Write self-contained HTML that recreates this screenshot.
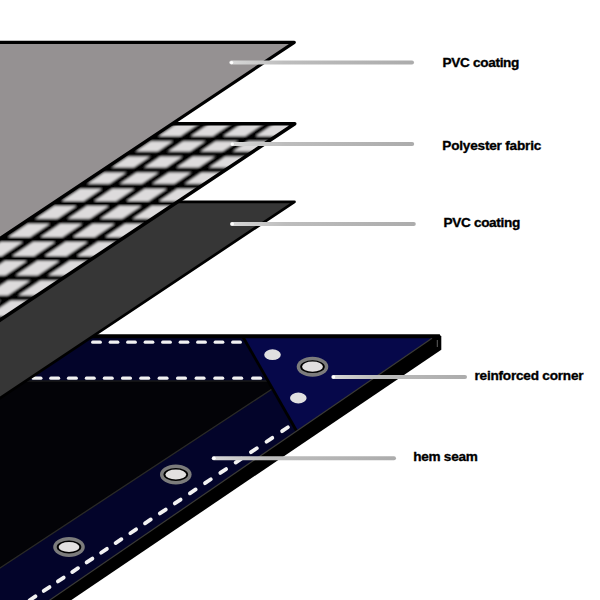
<!DOCTYPE html>
<html><head><meta charset="utf-8"><style>
html,body{margin:0;padding:0;background:#fff;width:600px;height:600px;overflow:hidden}
svg{position:absolute;left:0;top:0}
.l{position:absolute;font-family:"Liberation Sans",sans-serif;font-weight:bold;font-size:13.6px;line-height:16px;color:#000;-webkit-text-stroke:0.35px #000;white-space:nowrap}
</style></head><body>
<svg width="600" height="600" viewBox="0 0 600 600"><polygon points="0,334.5 439.5,334.5 441.3,336.5 441.3,349.7 56.6,610 0,610" fill="#000"/><polygon points="0,338.3 432,338.3 35.3,610 0,610" fill="#030307"/><polygon points="0,338.3 243.7,338.3 268.1,381 0,381" fill="#03042a"/><polygon points="272.5,388.7 296.6,431 35.3,610 -63.9,610" fill="#03042a"/><polygon points="243.7,338.3 432,338.3 296.6,431" fill="#06084a"/><line x1="0" y1="381" x2="268.1" y2="381" stroke="#1a1a1a" stroke-width="1.5"/><line x1="272.5" y1="388.7" x2="-63.9" y2="610" stroke="#2a2a26" stroke-width="1.3"/><line x1="243" y1="337" x2="296.6" y2="431" stroke="#000" stroke-width="2.8"/><line x1="432" y1="338.3" x2="35.3" y2="610" stroke="#3a3a36" stroke-width="1.2"/><line x1="0" y1="336.3" x2="440" y2="336.3" stroke="#000" stroke-width="3.6"/><line x1="437.3" y1="340" x2="437.3" y2="347" stroke="#777" stroke-width="0.8"/><g fill="#f2f2f2"><rect x="91.1" y="340.6" width="10.8" height="3.2" rx="1.6"/><rect x="108.6" y="340.6" width="10.8" height="3.2" rx="1.6"/><rect x="126.1" y="340.6" width="10.8" height="3.2" rx="1.6"/><rect x="143.6" y="340.6" width="10.8" height="3.2" rx="1.6"/><rect x="161.1" y="340.6" width="10.8" height="3.2" rx="1.6"/><rect x="178.6" y="340.6" width="10.8" height="3.2" rx="1.6"/><rect x="196.1" y="340.6" width="10.8" height="3.2" rx="1.6"/><rect x="213.6" y="340.6" width="10.8" height="3.2" rx="1.6"/><rect x="231.1" y="340.6" width="10.8" height="3.2" rx="1.6"/><rect x="31.5" y="376.6" width="11" height="3.2" rx="1.6"/><rect x="49.2" y="376.6" width="11" height="3.2" rx="1.6"/><rect x="66.9" y="376.6" width="11" height="3.2" rx="1.6"/><rect x="84.8" y="376.6" width="11" height="3.2" rx="1.6"/><rect x="102.8" y="376.6" width="11" height="3.2" rx="1.6"/><rect x="121" y="376.6" width="11" height="3.2" rx="1.6"/><rect x="139.2" y="376.6" width="11" height="3.2" rx="1.6"/><rect x="157.6" y="376.6" width="11" height="3.2" rx="1.6"/><rect x="176" y="376.6" width="11" height="3.2" rx="1.6"/><rect x="194.6" y="376.6" width="11" height="3.2" rx="1.6"/><rect x="213.3" y="376.6" width="11" height="3.2" rx="1.6"/><rect x="232.2" y="376.6" width="11" height="3.2" rx="1.6"/><rect x="251.1" y="376.6" width="11" height="3.2" rx="1.6"/><rect x="279.6" y="427.3" width="10.8" height="3.8" rx="1.9" transform="rotate(-33.8 285 429.2)"/><rect x="264" y="437.9" width="10.8" height="3.8" rx="1.9" transform="rotate(-33.8 269.4 439.8)"/><rect x="248.5" y="448.3" width="10.8" height="3.8" rx="1.9" transform="rotate(-33.8 253.9 450.2)"/><rect x="233.1" y="458.7" width="10.8" height="3.8" rx="1.9" transform="rotate(-33.8 238.5 460.6)"/><rect x="217.8" y="469.1" width="10.8" height="3.8" rx="1.9" transform="rotate(-33.8 223.2 471)"/><rect x="202.5" y="479.3" width="10.8" height="3.8" rx="1.9" transform="rotate(-33.8 207.9 481.2)"/><rect x="187.4" y="489.5" width="10.8" height="3.8" rx="1.9" transform="rotate(-33.8 192.8 491.4)"/><rect x="172.3" y="499.6" width="10.8" height="3.8" rx="1.9" transform="rotate(-33.8 177.7 501.5)"/><rect x="157.4" y="509.6" width="10.8" height="3.8" rx="1.9" transform="rotate(-33.8 162.8 511.5)"/><rect x="142.5" y="519.5" width="10.8" height="3.8" rx="1.9" transform="rotate(-33.8 147.9 521.4)"/><rect x="127.8" y="529.4" width="10.8" height="3.8" rx="1.9" transform="rotate(-33.8 133.2 531.3)"/><rect x="113.1" y="539.2" width="10.8" height="3.8" rx="1.9" transform="rotate(-33.8 118.5 541.1)"/><rect x="98.6" y="548.9" width="10.8" height="3.8" rx="1.9" transform="rotate(-33.8 104 550.8)"/><rect x="84.1" y="558.6" width="10.8" height="3.8" rx="1.9" transform="rotate(-33.8 89.5 560.5)"/><rect x="69.7" y="568.2" width="10.8" height="3.8" rx="1.9" transform="rotate(-33.8 75.1 570.1)"/><rect x="55.4" y="577.6" width="10.8" height="3.8" rx="1.9" transform="rotate(-33.8 60.8 579.5)"/><rect x="41.2" y="587.1" width="10.8" height="3.8" rx="1.9" transform="rotate(-33.8 46.6 589)"/><rect x="27.1" y="596.4" width="10.8" height="3.8" rx="1.9" transform="rotate(-33.8 32.5 598.3)"/></g><ellipse cx="312.5" cy="366.7" rx="15.8" ry="10" fill="#7c7c7c"/><ellipse cx="312.5" cy="366.7" rx="12.3" ry="6.4" fill="#000"/><ellipse cx="312.5" cy="366.7" rx="10.4" ry="5.1" fill="#e2e0e0"/><ellipse cx="175.8" cy="474.5" rx="15.8" ry="10" fill="#7c7c7c"/><ellipse cx="175.8" cy="474.5" rx="12.3" ry="6.4" fill="#000"/><ellipse cx="175.8" cy="474.5" rx="10.4" ry="5.1" fill="#e2e0e0"/><ellipse cx="69" cy="547" rx="15.8" ry="10" fill="#7c7c7c"/><ellipse cx="69" cy="547" rx="12.3" ry="6.4" fill="#000"/><ellipse cx="69" cy="547" rx="10.4" ry="5.1" fill="#e2e0e0"/><ellipse cx="272.5" cy="354.7" rx="8.3" ry="5.4" fill="#e0e0e0"/><ellipse cx="298.3" cy="398" rx="8.3" ry="5.4" fill="#e0e0e0"/><polygon points="-10,201.8 294.5,201.8 -317.8,610 -10,610" fill="#363636" stroke="#000" stroke-width="2.7" stroke-linejoin="round"/><clipPath id="mc"><polygon points="-10,123.7 294.8,123.7 -434.7,610 -10,610"/></clipPath><filter id="bl" x="-5%" y="-5%" width="110%" height="110%"><feGaussianBlur stdDeviation="0.85"/></filter><g clip-path="url(#mc)"><g filter="url(#bl)"><polygon points="-10,123.7 294.8,123.7 -434.7,610 -10,610" fill="#dddbdc"/><g stroke="#000" stroke-width="5.0"><line x1="-10" y1="138.7" x2="300" y2="138.7"/><line x1="-10" y1="154" x2="300" y2="154"/><line x1="-10" y1="170" x2="300" y2="170"/><line x1="-10" y1="186.3" x2="300" y2="186.3"/><line x1="-10" y1="203.4" x2="300" y2="203.4"/><line x1="-10" y1="221.3" x2="300" y2="221.3"/><line x1="-10" y1="239.5" x2="300" y2="239.5"/><line x1="-10" y1="258.4" x2="300" y2="258.4"/><line x1="-10" y1="277.9" x2="300" y2="277.9"/><line x1="-10" y1="298.1" x2="300" y2="298.1"/><line x1="-10" y1="318.5" x2="300" y2="318.5"/><line x1="-10" y1="339.5" x2="300" y2="339.5"/></g><g stroke="#000" stroke-width="5.8"><line x1="-154.8" y1="103.7" x2="-506.9" y2="340"/><line x1="-122.4" y1="103.7" x2="-474.5" y2="340"/><line x1="-90" y1="103.7" x2="-442.1" y2="340"/><line x1="-57.6" y1="103.7" x2="-409.7" y2="340"/><line x1="-25.2" y1="103.7" x2="-377.3" y2="340"/><line x1="7.2" y1="103.7" x2="-344.9" y2="340"/><line x1="39.6" y1="103.7" x2="-312.5" y2="340"/><line x1="72" y1="103.7" x2="-280.1" y2="340"/><line x1="104.4" y1="103.7" x2="-247.7" y2="340"/><line x1="136.8" y1="103.7" x2="-215.3" y2="340"/><line x1="169.2" y1="103.7" x2="-182.9" y2="340"/><line x1="201.6" y1="103.7" x2="-150.5" y2="340"/><line x1="234" y1="103.7" x2="-118.1" y2="340"/><line x1="266.4" y1="103.7" x2="-85.7" y2="340"/><line x1="298.8" y1="103.7" x2="-53.3" y2="340"/><line x1="331.2" y1="103.7" x2="-20.9" y2="340"/></g></g></g><polygon points="-10,123.7 294.8,123.7 -434.7,610 -10,610" fill="none" stroke="#000" stroke-width="3.5" stroke-linejoin="round"/><polygon points="-10,42.3 294.3,42.3 -557.2,610 -10,610" fill="#959192" stroke="#000" stroke-width="3.2" stroke-linejoin="round"/><linearGradient id="pg" x1="0" y1="0" x2="1" y2="0"><stop offset="0" stop-color="#d8d8d8"/><stop offset="0.3" stop-color="#bdbdbd"/><stop offset="1" stop-color="#acacac"/></linearGradient><rect x="229.3" y="60.6" width="184.7" height="4" rx="2" fill="url(#pg)"/><circle cx="231.6" cy="62.6" r="1.7" fill="#fff"/><rect x="230" y="142.1" width="184.2" height="4" rx="2" fill="url(#pg)"/><circle cx="232.3" cy="144.1" r="1.7" fill="#fff"/><rect x="230" y="221.9" width="185.8" height="4" rx="2" fill="url(#pg)"/><circle cx="232.3" cy="223.9" r="1.7" fill="#fff"/><rect x="331.3" y="375" width="135.7" height="4" rx="2" fill="url(#pg)"/><circle cx="333.6" cy="377" r="1.7" fill="#fff"/><rect x="211.7" y="456.3" width="184.3" height="4" rx="2" fill="url(#pg)"/><circle cx="214" cy="458.3" r="1.7" fill="#fff"/></svg>
<div class="l" style="left:442.6px;top:54.7px;letter-spacing:-0.33px">PVC coating</div><div class="l" style="left:442.3px;top:137.5px;letter-spacing:-0.2px">Polyester fabric</div><div class="l" style="left:443.5px;top:214.7px;letter-spacing:-0.33px">PVC coating</div><div class="l" style="left:474.5px;top:367.8px;letter-spacing:-0.22px">reinforced corner</div><div class="l" style="left:413.3px;top:448.5px;letter-spacing:-0.29px">hem seam</div>
</body></html>
